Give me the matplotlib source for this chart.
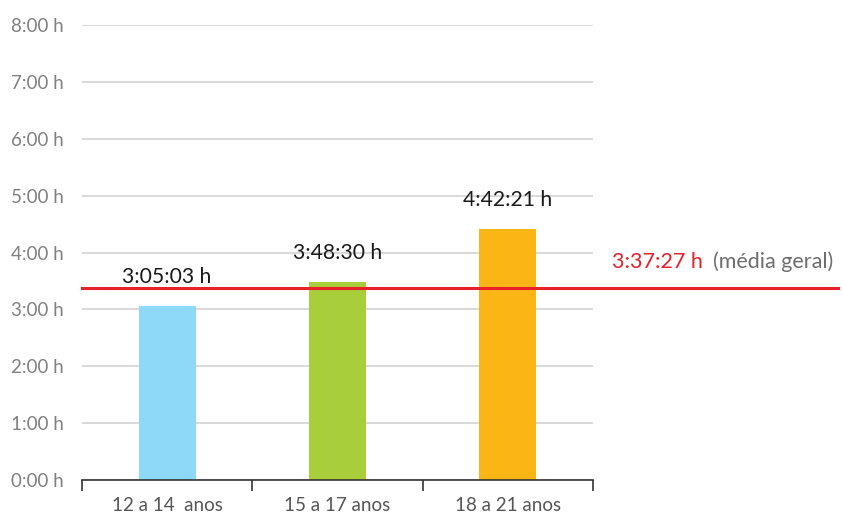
import numpy as np
import matplotlib.pyplot as plt

categories = ['12 a 14  anos', '15 a 17 anos', '18 a 21 anos']
values = [3.06, 3.48, 4.41]
value_labels = ['3:05:03 h', '3:48:30 h', '4:42:21 h']
bar_colors = ['#8ed8f8', '#a8ce3a', '#fbb615']
avg_value = 3.375
avg_label = '3:37:27 h'
avg_note = '(média geral)'
yticks = [0, 1, 2, 3, 4, 5, 6, 7, 8]
ytick_labels = ['0:00 h', '1:00 h', '2:00 h', '3:00 h', '4:00 h',
                '5:00 h', '6:00 h', '7:00 h', '8:00 h']

plt.rcParams['font.family'] = ['Lato', 'DejaVu Sans']

fig = plt.figure(figsize=(8.42, 5.15), dpi=100)
ax = fig.add_axes([82 / 842, 1 - 480 / 515, (593 - 82) / 842, (480 - 25) / 515])

x = np.arange(len(categories))
ax.bar(x, values, width=0.335, color=bar_colors, zorder=2)

for xi, v, lab in zip(x, values, value_labels):
    ax.annotate(lab, (xi, v), xytext=(0, 21), textcoords='offset points',
                ha='center', va='center', fontsize=15.2, color='#1a1a1a')

ax.set_xlim(-0.5, 2.5)
ax.set_ylim(0, 8)
ax.set_yticks(yticks)
ax.set_yticklabels(ytick_labels, fontsize=13.5, color='#808080')
ax.set_xticks(x)
ax.set_xticklabels(categories, fontsize=13.5, color='#555555')
ax.set_xticks([-0.5, 0.5, 1.5, 2.5], minor=True)
ax.tick_params(axis='x', which='major', length=0, pad=12)
ax.tick_params(axis='x', which='minor', length=8, width=1.2, color='#333333')
ax.tick_params(axis='y', length=0, pad=13)

ax.grid(axis='y', color='#d9d9d9', linewidth=1.4, zorder=0)
ax.set_axisbelow(True)
for s in ['top', 'right', 'left']:
    ax.spines[s].set_visible(False)
ax.spines['bottom'].set_color('#333333')
ax.spines['bottom'].set_linewidth(1.2)

# average line, goes past the plot to the note on the right
ax.axhline(avg_value, xmin=0, xmax=(838 - 82) / (593 - 82), color='#e8202a',
           linewidth=2.2, clip_on=False, zorder=3)
ax.annotate(avg_label, xy=(612 / 842, 1 - 262 / 515), xycoords='figure fraction',
            ha='left', va='center', fontsize=15.5, color='#e8202a')
ax.annotate(avg_note, xy=(713 / 842, 1 - 262 / 515), xycoords='figure fraction',
            ha='left', va='center', fontsize=15.5, color='#6d6d6d')

fig.savefig('out.png', dpi=100)
